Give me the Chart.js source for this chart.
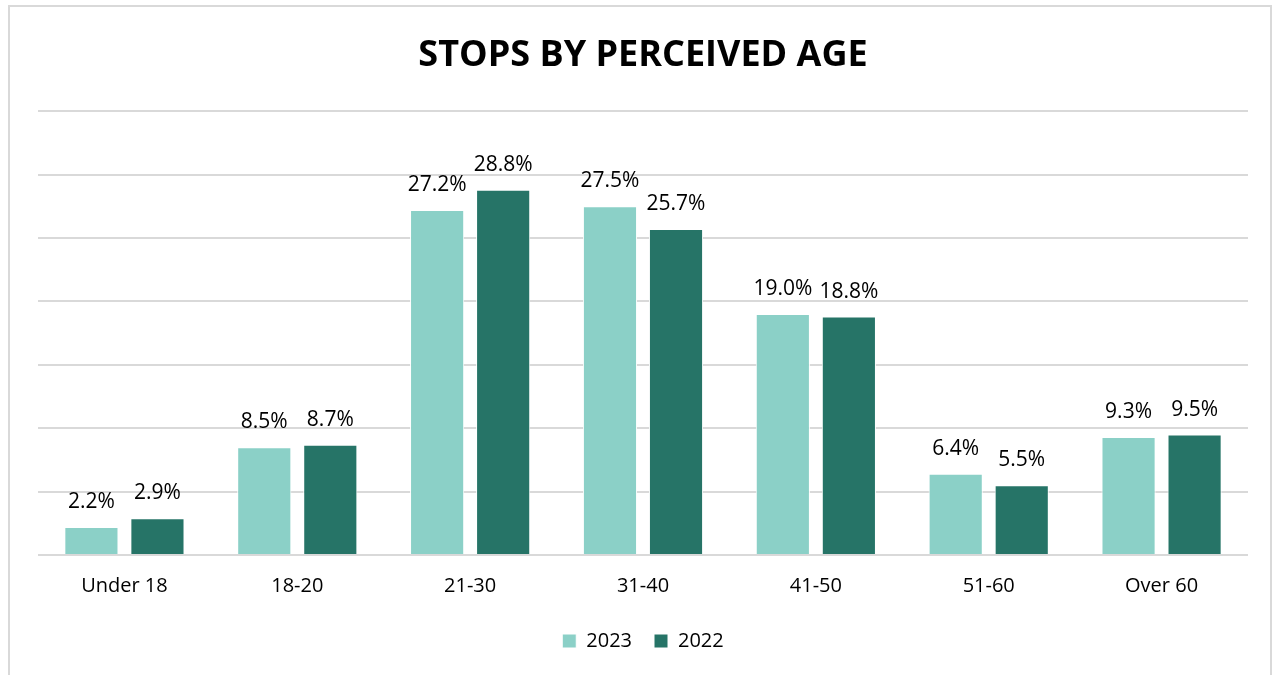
<!DOCTYPE html>
<html>
<head>
<meta charset="utf-8">
<script src="https://cdn.jsdelivr.net/npm/chart.js@4.4.1/dist/chart.umd.min.js"></script>
<style>
  html, body { margin: 0; padding: 0; background: #fff; }
  #frame {
    position: absolute; left: 8px; top: 5px; width: 1264px; height: 700px;
    border: 2px solid #d9d9d9; box-sizing: border-box;
  }
  #wrap { position: absolute; left: 0; top: 0; width: 1277px; height: 675px; }
</style>
</head>
<body>
<div id="frame"></div>
<div id="wrap"><canvas id="chart"></canvas></div>
<script>
// Stops by perceived age, share of all stops per year
const categories = ['Under 18', '18-20', '21-30', '31-40', '41-50', '51-60', 'Over 60'];
const values2023 = [2.2, 8.5, 27.2, 27.5, 19.0, 6.4, 9.3];
const values2022 = [2.9, 8.7, 28.8, 25.7, 18.8, 5.5, 9.5];

const COLORS = {
  light: '#8bd0c7',
  dark:  '#267467',
  grid:  '#d9d9d9',
  text:  '#000000',
};

const FONT = "'Open Sans', 'Noto Sans', sans-serif";

// simple value labels above each bar (no datalabels plugin available)
const barLabels = {
  id: 'barLabels',
  afterDatasetsDraw(chart) {
    const { ctx } = chart;
    ctx.save();
    ctx.font = `21px ${FONT}`;
    ctx.fillStyle = COLORS.text;
    ctx.textAlign = 'center';
    ctx.textBaseline = 'alphabetic';
    chart.data.datasets.forEach((ds, i) => {
      chart.getDatasetMeta(i).data.forEach((bar, j) => {
        ctx.fillText(ds.data[j].toFixed(1) + '%', bar.x, bar.y - 19);
      });
    });
    ctx.restore();
  },
};

new Chart(document.getElementById('chart'), {
  type: 'bar',
  data: {
    labels: categories,
    datasets: [
      { label: '2023', data: values2023, backgroundColor: COLORS.light, borderColor: '#ffffff', borderWidth: 1 },
      { label: '2022', data: values2022, backgroundColor: COLORS.dark, borderColor: '#ffffff', borderWidth: 1 },
    ],
  },
  options: {
    responsive: true,
    maintainAspectRatio: false,
    animation: false,
    categoryPercentage: 0.764,
    barPercentage: 0.82,
    layout: { padding: { left: 38, right: 29, top: 0, bottom: 14 } },
    plugins: {
      title: {
        display: true,
        text: 'STOPS BY PERCEIVED AGE',
        color: COLORS.text,
        font: { family: FONT, size: 36, weight: 'bold' },
        padding: { top: 34, bottom: 34 },
      },
      legend: {
        position: 'bottom',
        labels: {
          color: COLORS.text,
          font: { family: FONT, size: 20 },
          boxWidth: 14,
          boxHeight: 14,
          padding: 22,
        },
      },
      tooltip: { enabled: false },
    },
    scales: {
      x: {
        grid: { display: false },
        border: { display: false },
        ticks: { color: COLORS.text, font: { family: FONT, size: 20 }, padding: 11 },
      },
      y: {
        min: 0,
        max: 35,
        ticks: { stepSize: 5, display: false },
        grid: { color: COLORS.grid, lineWidth: 2, drawTicks: false },
        border: { display: false },
      },
    },
  },
  plugins: [barLabels],
});
</script>
</body>
</html>
